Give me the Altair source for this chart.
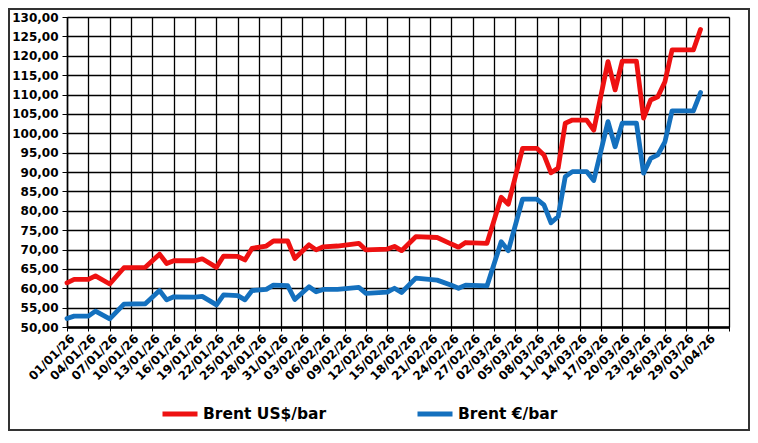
import json
import pandas as pd
import altair as alt

# ---- data ----
dates = [
    "2026-01-01", "2026-01-02", "2026-01-04", "2026-01-05", "2026-01-07", "2026-01-09",
    "2026-01-12", "2026-01-14", "2026-01-15", "2026-01-16", "2026-01-19", "2026-01-20",
    "2026-01-22", "2026-01-23", "2026-01-25", "2026-01-26", "2026-01-27", "2026-01-29",
    "2026-01-30", "2026-02-01", "2026-02-02", "2026-02-04", "2026-02-05", "2026-02-06",
    "2026-02-08", "2026-02-11", "2026-02-12", "2026-02-15", "2026-02-16", "2026-02-17",
    "2026-02-19", "2026-02-22", "2026-02-24", "2026-02-25", "2026-02-26", "2026-03-01",
    "2026-03-03", "2026-03-04", "2026-03-06", "2026-03-08", "2026-03-09", "2026-03-10",
    "2026-03-11", "2026-03-12", "2026-03-13", "2026-03-15", "2026-03-16", "2026-03-18",
    "2026-03-19", "2026-03-20", "2026-03-22", "2026-03-23", "2026-03-24", "2026-03-25",
    "2026-03-26", "2026-03-27", "2026-03-30", "2026-03-31",
]
brent_usd = [
    61.4, 62.3, 62.3, 63.2, 61.1, 65.3,
    65.4, 68.8, 66.4, 67.1, 67.1, 67.6,
    65.4, 68.3, 68.2, 67.3, 70.3, 70.9,
    72.2, 72.2, 67.7, 71.2, 69.9, 70.7,
    70.9, 71.6, 69.9, 70.1, 70.8, 69.7,
    73.3, 73.1, 71.4, 70.6, 71.8, 71.6,
    83.5, 81.7, 96.1, 96.1, 94.4, 89.8,
    91.0, 102.6, 103.4, 103.4, 100.8, 118.5,
    111.2, 118.6, 118.6, 103.9, 108.6, 109.4,
    113.3, 121.5, 121.5, 126.8,
]
brent_eur = [
    52.2, 52.8, 52.8, 54.1, 52.1, 55.9,
    56.0, 59.4, 57.0, 57.8, 57.7, 57.9,
    55.7, 58.3, 58.1, 57.0, 59.4, 59.7,
    60.8, 60.7, 57.1, 60.4, 59.1, 59.7,
    59.7, 60.2, 58.7, 59.0, 60.0, 58.9,
    62.6, 62.1, 60.8, 60.0, 60.8, 60.6,
    72.0, 69.7, 83.0, 83.0, 81.5, 76.9,
    78.5, 88.8, 90.1, 90.1, 87.8, 103.0,
    96.5, 102.6, 102.6, 89.7, 93.5, 94.4,
    97.8, 105.8, 105.8, 110.5,
]
series_names = ["Brent US$/bar", "Brent €/bar"]
series_colors = ["#EE1111", "#1470BE"]
x_labels = [
    "01/01/26", "04/01/26", "07/01/26", "10/01/26", "13/01/26", "16/01/26",
    "19/01/26", "22/01/26", "25/01/26", "28/01/26", "31/01/26", "03/02/26",
    "06/02/26", "09/02/26", "12/02/26", "15/02/26", "18/02/26", "21/02/26",
    "24/02/26", "27/02/26", "02/03/26", "05/03/26", "08/03/26", "11/03/26",
    "14/03/26", "17/03/26", "20/03/26", "23/03/26", "26/03/26", "29/03/26",
    "01/04/26",
]
y_ticks = list(range(50, 131, 5))

# ---- build table ----
start = pd.Timestamp("2026-01-01")
day_idx = [(pd.Timestamp(d) - start).days for d in dates]
rows = []
for d, u, e in zip(day_idx, brent_usd, brent_eur):
    rows.append({"day": d, "serie": series_names[0], "value": u})
    rows.append({"day": d, "serie": series_names[1], "value": e})
df = pd.DataFrame(rows)

x_ticks = list(range(0, 94, 3))
label_expr = (
    "datum.value <= 90 ? " + json.dumps(x_labels) + "[round(datum.value / 3)] : ''"
)

W, H = 662, 310
FONT = "DejaVu Sans"

lines = alt.Chart(df).mark_line(strokeWidth=4.8, strokeJoin="round", strokeCap="round").encode(
    x=alt.X(
        "day:Q",
        scale=alt.Scale(domain=[0, 93], nice=False, zero=False),
        axis=alt.Axis(
            values=x_ticks,
            labelExpr=label_expr,
            labelAngle=315,
            labelAlign="right",
            labelBaseline="middle",
            labelFont=FONT,
            labelFontWeight="bold",
            labelFontSize=12,
            labelColor="black",
            labelPadding=5,
            labelOffset=5,
            labelOverlap=False,
            labelBound=False,
            labelFlush=False,
            tickSize=4,
            tickColor="black",
            domainColor="black",
            domainWidth=2.5,
            gridColor="black",
            gridWidth=1.3,
            gridOpacity=1,
            title=None,
        ),
    ),
    y=alt.Y(
        "value:Q",
        scale=alt.Scale(domain=[50, 130], nice=False, zero=False),
        axis=alt.Axis(
            values=y_ticks,
            labelExpr="replace(format(datum.value, '.2f'), '.', ',')",
            labelFont=FONT,
            labelFontWeight="bold",
            labelFontSize=12,
            labelColor="black",
            labelPadding=4,
            labelOverlap=False,
            labelFlush=False,
            tickSize=5,
            tickColor="black",
            domainColor="black",
            domainWidth=1.5,
            gridColor="black",
            gridWidth=1.3,
            gridOpacity=1,
            title=None,
        ),
    ),
    color=alt.Color(
        "serie:N",
        scale=alt.Scale(domain=series_names, range=series_colors),
        sort=series_names,
        legend=alt.Legend(
            title=None,
            orient="none",
            legendX=93,
            legendY=377,
            direction="horizontal",
            columns=2,
            columnPadding=80,
            symbolType="stroke",
            symbolSize=1225,
            symbolStrokeWidth=5,
            labelFont=FONT,
            labelFontWeight="bold",
            labelFontSize=15.5,
            labelColor="black",
            labelOffset=3,
            labelLimit=300,
        ),
    ),
)

frame = alt.Chart(pd.DataFrame({"f": [0]})).mark_rect(
    filled=False, stroke="#333333", strokeWidth=2
).encode(
    x=alt.value(-58),
    x2=alt.value(W + 20),
    y=alt.value(-8),
    y2=alt.value(H + 103),
)

chart = alt.layer(frame, lines).properties(
    width=W,
    height=H,
    autosize=alt.AutoSizeParams(type="none"),
    padding={"left": 59, "top": 9, "right": 21, "bottom": 104},
).configure_view(
    stroke="black",
    strokeWidth=2.5,
).configure(background="white")

chart.save("out.html", embed_options={"renderer": "svg", "actions": False})
